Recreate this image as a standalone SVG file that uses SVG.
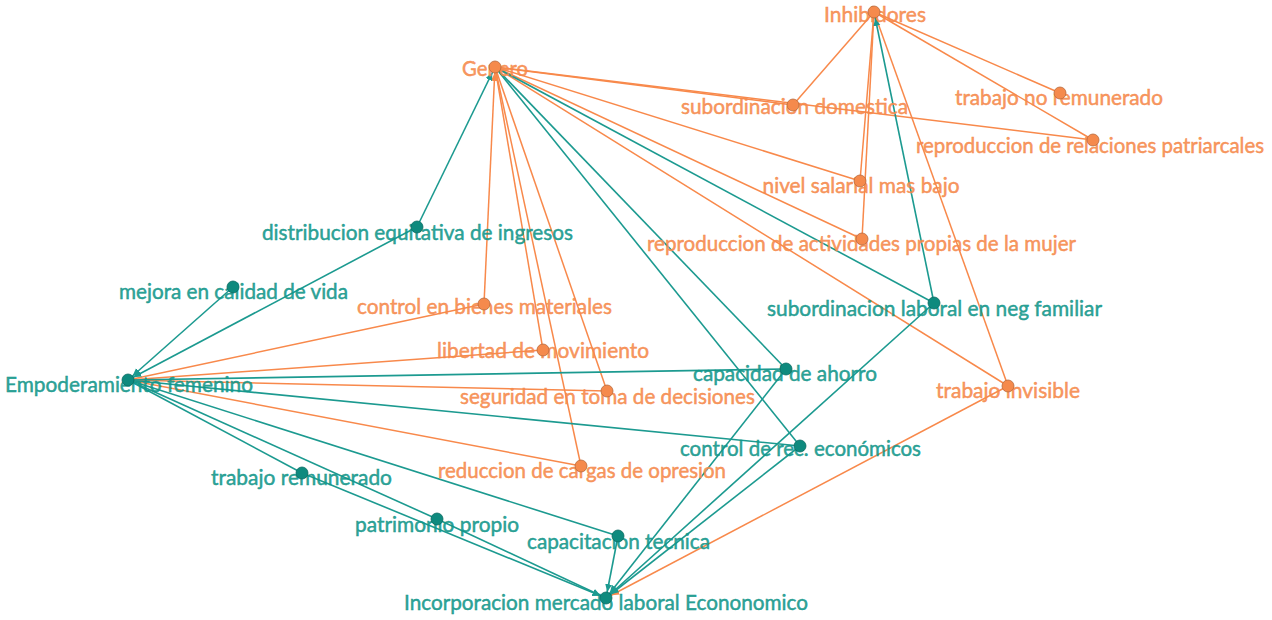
<svg xmlns="http://www.w3.org/2000/svg" width="1272" height="620" viewBox="0 0 1272 620">
<defs>
<style>
.eo{stroke:#F8894B;stroke-width:1.5;fill:none}
.et{stroke:#1C9A90;stroke-width:1.6;fill:none}
.to{fill:#F68A4C;stroke:#F68A4C;stroke-width:0.45;fill-opacity:0.9;font-family:Lato,"Open Sans",sans-serif;font-size:21px;text-anchor:middle}
.tt{fill:#13978B;stroke:#13978B;stroke-width:0.45;fill-opacity:0.9;font-family:Lato,"Open Sans",sans-serif;font-size:21px;text-anchor:middle}
.do{fill:#F58A4C;stroke:#B86A3C;stroke-width:0.8}
.dt{fill:#0E8A7E;stroke:#0A6B62;stroke-width:0.8}
</style>
<marker id="at" markerUnits="userSpaceOnUse" markerWidth="16" markerHeight="8" refX="14" refY="3.5" orient="auto"><path d="M0,0 L8,3.5 L0,7 z" fill="#1C9A90"/></marker>
<marker id="ao" markerUnits="userSpaceOnUse" markerWidth="16" markerHeight="8" refX="14" refY="3.5" orient="auto"><path d="M0,0 L8,3.5 L0,7 z" fill="#F8894B"/></marker>
</defs>
<rect width="1272" height="620" fill="#ffffff"/>
<g id="connectors">
<line class="eo" x1="495" y1="67" x2="793" y2="105"/>
<line class="eo" x1="495" y1="67" x2="1093" y2="140"/>
<line class="eo" x1="495" y1="67" x2="860" y2="181"/>
<line class="eo" x1="495" y1="67" x2="862" y2="239"/>
<line class="eo" x1="495" y1="67" x2="1008" y2="386"/>
<line class="eo" x1="484" y1="304" x2="495" y2="67" marker-end="url(#ao)"/>
<line class="eo" x1="495" y1="67" x2="543" y2="350"/>
<line class="eo" x1="495" y1="67" x2="607" y2="391"/>
<line class="eo" x1="495" y1="67" x2="581" y2="466"/>
<line class="eo" x1="874" y1="12" x2="793" y2="105"/>
<line class="eo" x1="874" y1="12" x2="1060" y2="93"/>
<line class="eo" x1="874" y1="12" x2="1093" y2="140"/>
<line class="eo" x1="874" y1="12" x2="860" y2="181"/>
<line class="eo" x1="874" y1="12" x2="862" y2="239"/>
<line class="eo" x1="874" y1="12" x2="1008" y2="386"/>
<line class="eo" x1="128" y1="380" x2="484" y2="304"/>
<line class="eo" x1="128" y1="380" x2="543" y2="350"/>
<line class="eo" x1="128" y1="380" x2="607" y2="391"/>
<line class="eo" x1="128" y1="380" x2="581" y2="466"/>
<line class="eo" x1="1008" y1="386" x2="606" y2="598" marker-end="url(#ao)"/>
<line class="et" x1="417" y1="227" x2="495" y2="67" marker-end="url(#at)"/>
<line class="et" x1="417" y1="227" x2="128" y2="380" marker-end="url(#at)"/>
<line class="et" x1="233" y1="287" x2="128" y2="380" marker-end="url(#at)"/>
<line class="et" x1="495" y1="67" x2="786" y2="369"/>
<line class="et" x1="495" y1="67" x2="800" y2="446"/>
<line class="et" x1="495" y1="67" x2="934" y2="303"/>
<line class="et" x1="934" y1="303" x2="874" y2="12" marker-end="url(#at)"/>
<line class="et" x1="934" y1="303" x2="606" y2="598" marker-end="url(#at)"/>
<line class="et" x1="786" y1="369" x2="606" y2="598" marker-end="url(#at)"/>
<line class="et" x1="800" y1="446" x2="606" y2="598" marker-end="url(#at)"/>
<line class="et" x1="618" y1="536" x2="606" y2="598" marker-end="url(#at)"/>
<line class="et" x1="128" y1="380" x2="786" y2="369"/>
<line class="et" x1="128" y1="380" x2="800" y2="446"/>
<line class="et" x1="128" y1="380" x2="618" y2="536"/>
<line class="et" x1="128" y1="380" x2="302" y2="473"/>
<line class="et" x1="128" y1="380" x2="437" y2="519"/>
<line class="et" x1="302" y1="473" x2="606" y2="598" marker-end="url(#at)"/>
<line class="et" x1="437" y1="519" x2="606" y2="598" marker-end="url(#at)"/>
</g>
<g id="n-inhibidores"><text class="to" x="875" y="22" textLength="102" lengthAdjust="spacingAndGlyphs">Inhibidores</text><circle class="do" cx="874" cy="12" r="6"/></g>
<g id="n-genero"><text class="to" x="495" y="76" textLength="66" lengthAdjust="spacingAndGlyphs">Genero</text><circle class="do" cx="495" cy="67" r="6"/></g>
<g id="n-subordinacion-domestica"><text class="to" x="794.5" y="114" textLength="227" lengthAdjust="spacingAndGlyphs">subordinacion domestica</text><circle class="do" cx="793" cy="105" r="6"/></g>
<g id="n-trabajo-no-remunerado"><text class="to" x="1059" y="105" textLength="208" lengthAdjust="spacingAndGlyphs">trabajo no remunerado</text><circle class="do" cx="1060" cy="93" r="6"/></g>
<g id="n-relaciones-patriarcales"><text class="to" x="1090" y="153" textLength="348" lengthAdjust="spacingAndGlyphs">reproduccion de relaciones patriarcales</text><circle class="do" cx="1093" cy="140" r="6"/></g>
<g id="n-nivel-salarial"><text class="to" x="861" y="193" textLength="197" lengthAdjust="spacingAndGlyphs">nivel salarial mas bajo</text><circle class="do" cx="860" cy="181" r="6"/></g>
<g id="n-reproduccion-actividades"><text class="to" x="861.5" y="251" textLength="429" lengthAdjust="spacingAndGlyphs">reproduccion de actividades propias de la mujer</text><circle class="do" cx="862" cy="239" r="6"/></g>
<g id="n-subordinacion-laboral"><text class="tt" x="934.5" y="316" textLength="335" lengthAdjust="spacingAndGlyphs">subordinacion laboral en neg familiar</text><circle class="dt" cx="934" cy="303" r="6"/></g>
<g id="n-distribucion"><text class="tt" x="417.5" y="240" textLength="311" lengthAdjust="spacingAndGlyphs">distribucion equitativa de ingresos</text><circle class="dt" cx="417" cy="227" r="6"/></g>
<g id="n-mejora"><text class="tt" x="233.5" y="299" textLength="229" lengthAdjust="spacingAndGlyphs">mejora en calidad de vida</text><circle class="dt" cx="233" cy="287" r="6"/></g>
<g id="n-control-bienes"><text class="to" x="484.5" y="314" textLength="255" lengthAdjust="spacingAndGlyphs">control en bienes materiales</text><circle class="do" cx="484" cy="304" r="6"/></g>
<g id="n-libertad"><text class="to" x="543" y="358" textLength="212" lengthAdjust="spacingAndGlyphs">libertad de movimiento</text><circle class="do" cx="543" cy="350" r="6"/></g>
<g id="n-capacidad-ahorro"><text class="tt" x="785" y="381" textLength="184" lengthAdjust="spacingAndGlyphs">capacidad de ahorro</text><circle class="dt" cx="786" cy="369" r="6"/></g>
<g id="n-empoderamiento"><text class="tt" x="129" y="392" textLength="248" lengthAdjust="spacingAndGlyphs">Empoderamiento femenino</text><circle class="dt" cx="128" cy="380" r="6"/></g>
<g id="n-seguridad"><text class="to" x="607.5" y="404" textLength="295" lengthAdjust="spacingAndGlyphs">seguridad en toma de decisiones</text><circle class="do" cx="607" cy="391" r="6"/></g>
<g id="n-trabajo-invisible"><text class="to" x="1008" y="398" textLength="144" lengthAdjust="spacingAndGlyphs">trabajo invisible</text><circle class="do" cx="1008" cy="386" r="6"/></g>
<g id="n-control-rec"><text class="tt" x="800.5" y="456" textLength="241" lengthAdjust="spacingAndGlyphs">control de rec. económicos</text><circle class="dt" cx="800" cy="446" r="6"/></g>
<g id="n-reduccion"><text class="to" x="582" y="478" textLength="288" lengthAdjust="spacingAndGlyphs">reduccion de cargas de opresion</text><circle class="do" cx="581" cy="466" r="6"/></g>
<g id="n-trabajo-remunerado"><text class="tt" x="301.5" y="485" textLength="181" lengthAdjust="spacingAndGlyphs">trabajo remunerado</text><circle class="dt" cx="302" cy="473" r="6"/></g>
<g id="n-patrimonio"><text class="tt" x="437" y="532" textLength="164" lengthAdjust="spacingAndGlyphs">patrimonio propio</text><circle class="dt" cx="437" cy="519" r="6"/></g>
<g id="n-capacitacion"><text class="tt" x="618.5" y="549" textLength="183" lengthAdjust="spacingAndGlyphs">capacitacion tecnica</text><circle class="dt" cx="618" cy="536" r="6"/></g>
<g id="n-incorporacion"><text class="tt" x="606" y="610" textLength="404" lengthAdjust="spacingAndGlyphs">Incorporacion mercado laboral Econonomico</text><circle class="dt" cx="606" cy="598" r="6"/></g>
</svg>
